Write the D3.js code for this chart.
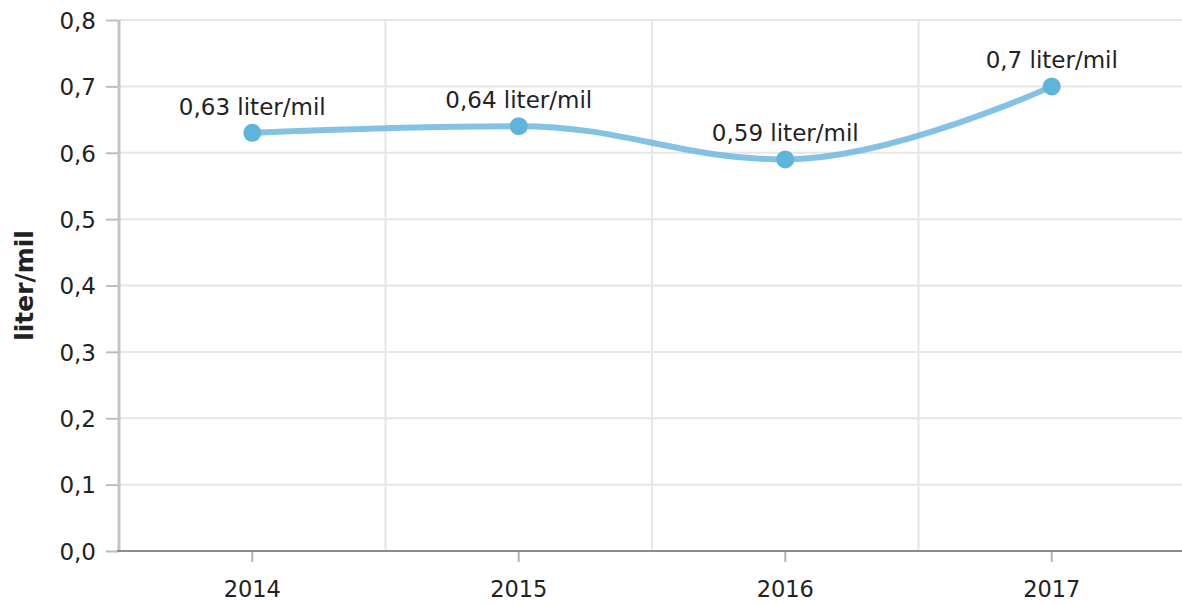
<!DOCTYPE html>
<html><head><meta charset="utf-8">
<script src="https://cdn.jsdelivr.net/npm/d3@7"></script>
<style>
html,body{margin:0;padding:0;background:#fff;}
svg{display:block;}
svg text{font-family:"DejaVu Sans",Verdana,sans-serif;}
</style></head>
<body><svg id="c" width="1182" height="604"></svg>
<script>
const categories = ["2014","2015","2016","2017"];
const values = [0.63, 0.64, 0.59, 0.7];
const dataLabels = ["0,63 liter/mil","0,64 liter/mil","0,59 liter/mil","0,7 liter/mil"];
const yTicks = [0,0.1,0.2,0.3,0.4,0.5,0.6,0.7,0.8];
const yTitle = "liter/mil";

const svg = d3.select("#c");
const m = {left:119, right:0, top:20, bottom:53};
const W = 1182, H = 604;
const FF = '"DejaVu Sans",Verdana,sans-serif';
const x = d3.scaleBand().domain(categories).range([m.left, 1185]).padding(0);
const y = d3.scaleLinear().domain([0,0.8]).range([H-m.bottom, m.top]);
const fmt = d => d3.format(".1f")(d).replace(".", ",");

// horizontal grid
svg.append("g").selectAll("line").data(yTicks.filter(d=>d>0)).join("line")
  .attr("x1", m.left).attr("x2", W).attr("y1", d=>y(d)).attr("y2", d=>y(d))
  .attr("stroke","#e6e6e6").attr("stroke-width",2);
// vertical grid at band boundaries
svg.append("g").selectAll("line").data(categories.slice(1)).join("line")
  .attr("x1", d=>x(d)).attr("x2", d=>x(d)).attr("y1", m.top).attr("y2", y(0))
  .attr("stroke","#e6e6e6").attr("stroke-width",2);

// y axis
const yAxis = svg.append("g").attr("transform",`translate(${m.left},0)`)
  .call(d3.axisLeft(y).tickValues(yTicks).tickFormat(fmt).tickSize(13).tickPadding(10));
yAxis.attr("font-family", FF).attr("font-size", 23);
yAxis.select(".domain").remove();
yAxis.selectAll(".tick line").attr("stroke","#bdbdbd").attr("stroke-width",2);
yAxis.selectAll(".tick text").attr("fill","#222").attr("dy","0.36em");
svg.append("line").attr("x1",m.left).attr("x2",m.left).attr("y1",m.top).attr("y2",y(0))
  .attr("stroke","#c4c4c4").attr("stroke-width",3);

// x axis
const xAxis = svg.append("g").attr("transform",`translate(0,${y(0)})`)
  .call(d3.axisBottom(x).tickSize(11).tickPadding(19));
xAxis.attr("font-family", FF).attr("font-size", 22.5);
xAxis.select(".domain").remove();
xAxis.selectAll(".tick line").attr("stroke","#b5b5b5").attr("stroke-width",2);
xAxis.selectAll(".tick text").attr("fill","#222");
svg.append("line").attr("x1",m.left-2).attr("x2",W).attr("y1",y(0)).attr("y2",y(0))
  .attr("stroke","#8c8c8c").attr("stroke-width",2);

// y title
svg.append("text").attr("transform",`translate(33,${(m.top+y(0))/2}) rotate(-90)`)
  .attr("text-anchor","middle").attr("font-weight","bold").attr("font-size",25)
  .attr("fill","#222").text(yTitle);

// spline (Highcharts-style smoothing) through scaled points
const pts = categories.map((c,i)=>[x(c)+x.bandwidth()/2, y(values[i])]);
function splinePath(p){
  const s = 1.5, den = s + 1;
  const L = [], R = [];
  p.forEach((pt,i)=>{
    if(i===0 || i===p.length-1){ L[i]=pt.slice(); R[i]=pt.slice(); return; }
    const a=p[i-1], b=p[i+1];
    let lx=(s*pt[0]+a[0])/den, ly=(s*pt[1]+a[1])/den;
    let rx=(s*pt[0]+b[0])/den, ry=(s*pt[1]+b[1])/den;
    let corr=((ry-ly)*(rx-pt[0]))/(rx-lx)+pt[1]-ry;
    ly+=corr; ry+=corr;
    if(ly>a[1]&&ly>pt[1]){ ly=Math.max(a[1],pt[1]); ry=2*pt[1]-ly; }
    else if(ly<a[1]&&ly<pt[1]){ ly=Math.min(a[1],pt[1]); ry=2*pt[1]-ly; }
    if(ry>b[1]&&ry>pt[1]){ ry=Math.max(b[1],pt[1]); ly=2*pt[1]-ry; }
    else if(ry<b[1]&&ry<pt[1]){ ry=Math.min(b[1],pt[1]); ly=2*pt[1]-ry; }
    L[i]=[lx,ly]; R[i]=[rx,ry];
  });
  const path=d3.path();
  path.moveTo(p[0][0],p[0][1]);
  for(let i=1;i<p.length;i++){
    path.bezierCurveTo(R[i-1][0],R[i-1][1],L[i][0],L[i][1],p[i][0],p[i][1]);
  }
  return path.toString();
}
svg.append("path").attr("d", splinePath(pts))
  .attr("fill","none").attr("stroke","#6db7de").attr("stroke-opacity",0.85)
  .attr("stroke-width",6).attr("stroke-linecap","round");
svg.append("g").selectAll("circle").data(pts).join("circle")
  .attr("cx",d=>d[0]).attr("cy",d=>d[1]).attr("r",9).attr("fill","#5fb4dc");
svg.append("g").selectAll("text").data(pts).join("text")
  .attr("x",d=>d[0]).attr("y",d=>d[1]-18).attr("text-anchor","middle")
  .attr("font-size",23).attr("fill","#222").text((d,i)=>dataLabels[i]);
</script></body></html>
